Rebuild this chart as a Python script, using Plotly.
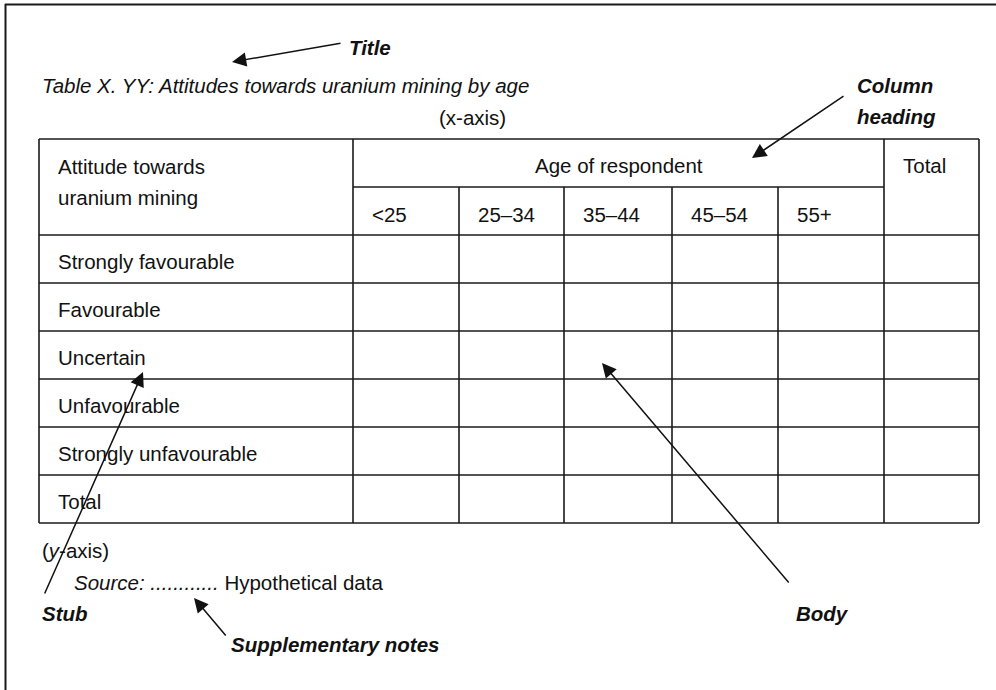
import plotly.graph_objects as go

# ---------------- data / text content ----------------
title_text = "Table X. YY: Attitudes towards uranium mining by age"
stub_heading = ["Attitude towards", "uranium mining"]
span_heading = "Age of respondent"
age_groups = ["<25", "25–34", "35–44", "45–54", "55+"]
total_heading = "Total"
row_labels = ["Strongly favourable", "Favourable", "Uncertain",
              "Unfavourable", "Strongly unfavourable", "Total"]
x_axis_note = "(x-axis)"
y_axis_note = "(<i>y</i>-axis)"
source_note = "<i>Source: ............</i> Hypothetical data"
callouts = ["Title", "Column", "heading", "Stub", "Body", "Supplementary notes"]

# ---------------- layout constants (pixels) ----------------
W, H = 996, 690
FONT = "Liberation Sans, Arial, sans-serif"
FS = 20.5
LINE = "#1a1a1a"

tab_left, tab_top = 39, 139
stub_right = 353
age_edges = [353, 459, 564, 672, 778, 884]
tab_right = 979
head_mid = 187
head_bottom = 235
row_h = 48
n_rows = len(row_labels)
tab_bottom = head_bottom + row_h * n_rows

fig = go.Figure()
shapes = []

def hline(y, x0, x1, w=1.6):
    shapes.append(dict(type="line", xref="x", yref="y", x0=x0, x1=x1, y0=y, y1=y,
                       line=dict(color=LINE, width=w)))

def vline(x, y0, y1, w=1.6):
    shapes.append(dict(type="line", xref="x", yref="y", x0=x, x1=x, y0=y0, y1=y1,
                       line=dict(color=LINE, width=w)))

# outer page frame (top and left edges)
hline(4.5, 5, W, w=2)
vline(5.5, 4, H, w=2)

# table outline
hline(tab_top, tab_left, tab_right)
hline(tab_bottom, tab_left, tab_right)
vline(tab_left, tab_top, tab_bottom)
vline(tab_right, tab_top, tab_bottom)
vline(stub_right, tab_top, tab_bottom)
vline(age_edges[-1], tab_top, tab_bottom)
for x in age_edges[1:-1]:
    vline(x, head_mid, tab_bottom)
hline(head_mid, age_edges[0], age_edges[-1])
for i in range(n_rows):
    hline(head_bottom + i * row_h, tab_left, tab_right)

ann = []

def txt(x, y, s, anchor="left", size=FS):
    ann.append(dict(x=x, y=y, xref="x", yref="y", text=s, showarrow=False,
                    xanchor=anchor, yanchor="middle",
                    font=dict(family=FONT, size=size, color="#111")))

# title and notes
txt(40, 85, "<i>" + title_text + "</i>")
txt(472, 117, x_axis_note, anchor="center")

# header
txt(56, 166, stub_heading[0])
txt(56, 197, stub_heading[1])
txt((age_edges[0] + age_edges[-1]) / 2, 165, span_heading, anchor="center")
txt(age_edges[-1] + 17, 165, total_heading)
for i, g in enumerate(age_groups):
    txt(age_edges[i] + 17, 214, g)

# stub rows
for i, r in enumerate(row_labels):
    txt(56, head_bottom + i * row_h + row_h / 2 + 2, r)

# below table
txt(40, 550, y_axis_note)
txt(72, 582, source_note)

# callout labels (bold italic)
txt(347, 47, "<b><i>" + callouts[0] + "</i></b>")
txt(855, 85, "<b><i>" + callouts[1] + "</i></b>")
txt(855, 116, "<b><i>" + callouts[2] + "</i></b>")
txt(40, 613, "<b><i>" + callouts[3] + "</i></b>")
txt(794, 613, "<b><i>" + callouts[4] + "</i></b>")
txt(229, 644, "<b><i>" + callouts[5] + "</i></b>")

# arrows: (tip_x, tip_y, tail_x, tail_y)
arrows = [
    (232, 62, 342, 43),
    (752, 158, 845, 95),
    (143, 372, 44, 595),
    (602, 363, 790, 584),
    (194, 598, 227, 637),
]
for tx, ty, sx, sy in arrows:
    ann.append(dict(x=tx, y=ty, ax=sx, ay=sy, xref="x", yref="y",
                    axref="x", ayref="y", text="", showarrow=True,
                    arrowhead=2, arrowsize=1.9, arrowwidth=1.5,
                    arrowcolor="#111", standoff=0, startstandoff=0))

fig.update_layout(
    width=W, height=H,
    margin=dict(l=0, r=0, t=0, b=0),
    paper_bgcolor="white", plot_bgcolor="white",
    showlegend=False,
    xaxis=dict(range=[0, W], visible=False, fixedrange=True),
    yaxis=dict(range=[H, 0], visible=False, fixedrange=True),
    shapes=shapes,
    annotations=ann,
)

fig.write_html("out.html", config={"displayModeBar": False},
               post_script="document.body.style.margin='0px';")
